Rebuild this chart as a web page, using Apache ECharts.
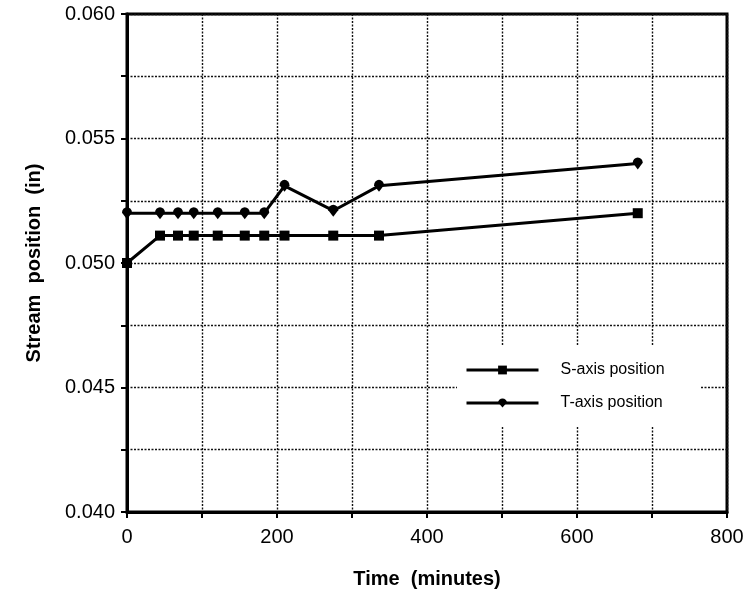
<!DOCTYPE html>
<html>
<head>
<meta charset="utf-8">
<script src="https://cdn.jsdelivr.net/npm/echarts@6/dist/echarts.min.js"></script>
<style>
  html, body { margin: 0; padding: 0; background: #fff; }
  #chart { width: 748px; height: 596px; }
</style>
</head>
<body>
<div id="chart"></div>
<script>
// time in minutes, shared by both series
const times = [0, 44, 68, 89, 121, 157, 183, 210, 275, 336, 681]
const sAxis = [0.050, 0.0511, 0.0511, 0.0511, 0.0511, 0.0511, 0.0511, 0.0511, 0.0511, 0.0511, 0.052]
const tAxis = [0.052, 0.052, 0.052, 0.052, 0.052, 0.052, 0.052, 0.0531, 0.0521, 0.0531, 0.054]
const xLabels = [0, 200, 400, 600, 800]
const yLabels = [0.040, 0.045, 0.050, 0.055, 0.060]

const font = 'Liberation Sans, Arial, Helvetica, sans-serif'
const gridLine = { show: true, lineStyle: { color: '#111', width: 1.4, type: [2, 1.5] } }
// round top, pointed bottom (the T-axis marker)
const dropSymbol = 'path://M0,5 A5,5 0 1,1 10,5 L5,11 Z'

const chart = echarts.init(document.getElementById('chart'))

chart.setOption({
  backgroundColor: '#fff',
  animation: false,
  grid: {
    left: 127, right: 21, top: 14, bottom: 84,
    show: true,
    borderColor: '#000',
    borderWidth: 3
  },
  legend: {
    left: 457, top: 346,
    orient: 'vertical',
    backgroundColor: '#fff',
    padding: [16, 36, 15, 8],
    itemWidth: 72,
    itemHeight: 11,
    itemGap: 17,
    lineStyle: { width: 3, color: '#000' },
    textStyle: { fontFamily: font, fontSize: 16, color: '#000', padding: [0, 0, 0, 17] },
    data: ['S-axis position', 'T-axis position']
  },
  xAxis: {
    type: 'value',
    min: 0, max: 800, interval: 100,
    name: 'Time  (minutes)',
    nameLocation: 'middle',
    nameGap: 57,
    nameTextStyle: { fontFamily: font, fontSize: 20, fontWeight: 'bold', color: '#000' },
    axisLine: { lineStyle: { color: '#000', width: 3 } },
    axisTick: { show: true, length: 6, inside: false, lineStyle: { color: '#000', width: 2 } },
    axisLabel: {
      fontFamily: font, fontSize: 20, color: '#000', margin: 15,
      formatter: v => xLabels.indexOf(v) >= 0 ? String(v) : ''
    },
    splitLine: gridLine
  },
  yAxis: {
    type: 'value',
    min: 0.040, max: 0.060, interval: 0.0025,
    name: 'Stream  position  (in)',
    nameLocation: 'middle',
    nameGap: 83,
    nameTextStyle: { fontFamily: font, fontSize: 20, fontWeight: 'bold', color: '#000' },
    axisLine: { lineStyle: { color: '#000', width: 3 } },
    axisTick: { show: true, length: 6, inside: false, lineStyle: { color: '#000', width: 2 } },
    axisLabel: {
      fontFamily: font, fontSize: 20, color: '#000', margin: 12,
      formatter: v => {
        const hit = yLabels.find(l => Math.abs(l - v) < 1e-7)
        return hit !== undefined ? hit.toFixed(3) : ''
      }
    },
    splitLine: gridLine
  },
  series: [{
    name: 'S-axis position',
    type: 'line',
    data: times.map((t, i) => [t, sAxis[i]]),
    symbol: 'rect',
    symbolSize: 10,
    color: '#000',
    lineStyle: { color: '#000', width: 3 },
    itemStyle: { color: '#000' }
  }, {
    name: 'T-axis position',
    type: 'line',
    data: times.map((t, i) => [t, tAxis[i]]),
    symbol: dropSymbol,
    symbolSize: [11, 12],
    symbolKeepAspect: true,
    color: '#000',
    lineStyle: { color: '#000', width: 3 },
    itemStyle: { color: '#000' }
  }]
})
</script>
</body>
</html>
